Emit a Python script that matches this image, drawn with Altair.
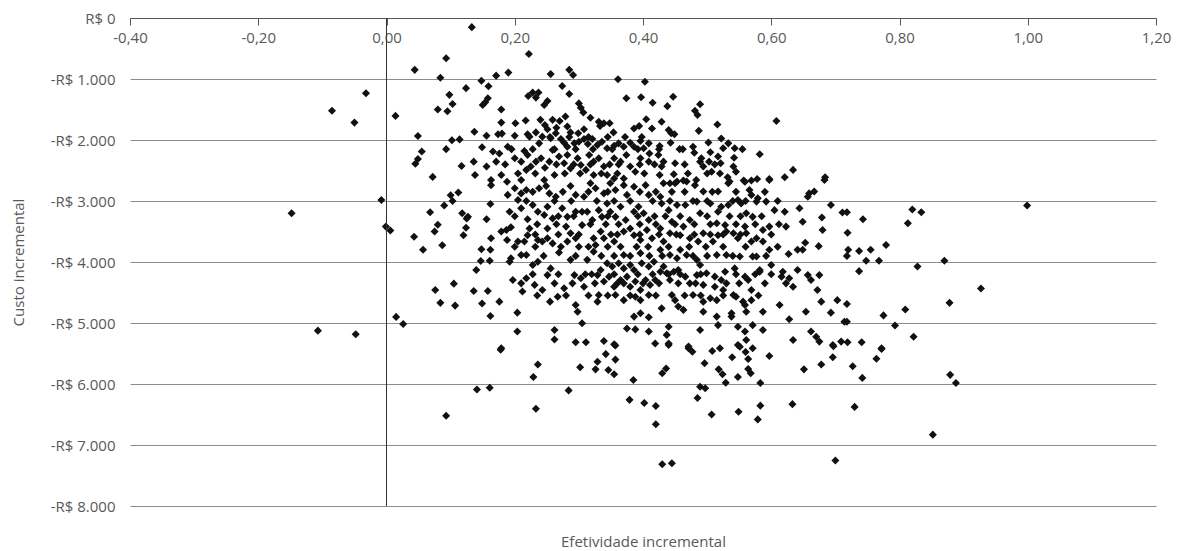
import altair as alt
import pandas as pd

# Axis ticks and labels (Brazilian number formatting)
x_ticks = [-0.4, -0.2, 0.0, 0.2, 0.4, 0.6, 0.8, 1.0, 1.2]
x_tick_labels = ["-0,40", "-0,20", "0,00", "0,20", "0,40", "0,60", "0,80", "1,00", "1,20"]
y_ticks = [0, -1000, -2000, -3000, -4000, -5000, -6000, -7000, -8000]
y_tick_labels = ["R$ 0", "-R$ 1.000", "-R$ 2.000", "-R$ 3.000", "-R$ 4.000",
                 "-R$ 5.000", "-R$ 6.000", "-R$ 7.000", "-R$ 8.000"]

# (efetividade incremental, custo incremental), by region
pts_left = [
    (0.133, -150), (0.222, -590), (0.044, -850), (0.093, -660), (0.084, -980), (0.124, -1150),
    (-0.032, -1235), (-0.085, -1520), (-0.05, -1715), (0.014, -1605), (0.098, -1260), (0.103, -1410),
    (0.08, -1500), (0.095, -1530), (0.049, -1935), (0.102, -2005), (0.114, -1990), (0.093, -2150),
    (0.055, -2190), (0.049, -2310), (0.045, -2390), (0.117, -2425), (0.072, -2605),
    (-0.148, -3200), (-0.008, -2985), (-0.001, -3420), (0.006, -3485), (0.043, -3585), (0.057, -3800),
    (0.068, -3185), (0.075, -3500), (0.08, -3390), (0.087, -3725), (0.09, -3075), (0.1, -2905),
    (0.103, -3000), (0.112, -2860), (0.118, -3200), (0.125, -3285), (0.124, -3440), (0.12, -3560),
    (0.076, -4460), (0.105, -4355), (0.084, -4670), (0.107, -4715), (0.015, -4900), (0.026, -5015),
    (-0.107, -5125), (-0.048, -5185), (0.093, -6520),
]
pts_lower = [
    (0.178, -5440), (0.141, -6090), (0.161, -6060), (0.229, -5885), (0.236, -5680), (0.233, -6405),
    (0.284, -6105), (0.302, -5725), (0.326, -5760), (0.329, -5635), (0.342, -5510), (0.346, -5770),
    (0.355, -5840), (0.357, -5600), (0.357, -5370), (0.385, -5935), (0.379, -6260), (0.402, -6310),
    (0.42, -6360), (0.42, -6660),
    (0.43, -7315), (0.445, -7300), (0.7, -7255), (0.852, -6830), (0.879, -5850), (0.888, -5985),
    (0.43, -5825), (0.436, -5745), (0.44, -5360), (0.471, -5415), (0.477, -5470), (0.508, -5460),
    (0.496, -5660), (0.518, -5760), (0.524, -5840), (0.529, -5980), (0.489, -6045), (0.497, -6070),
    (0.485, -6230), (0.507, -6500), (0.539, -5560), (0.551, -5390), (0.56, -5475), (0.564, -5590),
    (0.571, -5415), (0.548, -5885), (0.564, -5755), (0.568, -5825), (0.583, -5985), (0.549, -6455),
    (0.583, -6355), (0.579, -6580), (0.597, -5540), (0.633, -6330), (0.651, -5760), (0.678, -5680),
    (0.696, -5560), (0.697, -5380), (0.727, -5710), (0.742, -5900), (0.73, -6375), (0.764, -5585),
    (0.772, -5425),
]
pts_right = [
    (0.999, -3075), (0.82, -3140), (0.834, -3185), (0.813, -3365), (0.743, -3300), (0.718, -3185),
    (0.719, -3520), (0.72, -3800), (0.718, -3900), (0.737, -3820), (0.755, -3800), (0.779, -3720),
    (0.748, -3980), (0.768, -3980), (0.737, -4150), (0.87, -3980), (0.828, -4075), (0.927, -4435),
    (0.878, -4670), (0.809, -4780), (0.775, -4875), (0.793, -5040), (0.822, -5225), (0.718, -4690),
    (0.718, -4980), (0.719, -5315), (0.741, -5315), (0.772, -5415),
]
pts_upper_mid = [
    (0.608, -1690), (0.447, -1290), (0.438, -1445), (0.429, -1700), (0.489, -1415), (0.481, -1520),
    (0.485, -1590), (0.516, -1745), (0.487, -1850), (0.44, -1835), (0.444, -1890), (0.449, -1905),
    (0.443, -2045), (0.426, -2100), (0.424, -2245), (0.457, -2150), (0.432, -2355), (0.45, -2380),
    (0.478, -2110), (0.48, -2210), (0.502, -2040), (0.522, -1975), (0.533, -2055), (0.543, -2135),
    (0.555, -2150), (0.525, -2135), (0.505, -2200), (0.517, -2270), (0.542, -2290), (0.489, -2355),
    (0.494, -2435), (0.503, -2355), (0.521, -2380), (0.541, -2435), (0.545, -2520), (0.507, -2520),
    (0.582, -2235), (0.634, -2490), (0.621, -2610), (0.684, -2610), (0.597, -2640), (0.578, -2640),
    (0.569, -2665), (0.557, -2665), (0.532, -2610), (0.535, -2680), (0.483, -2655), (0.463, -2665),
    (0.453, -2680), (0.442, -2710), (0.448, -2560), (0.429, -2435), (0.426, -2575), (0.491, -2300),
]
pts_upper_left = [
    (0.148, -1030), (0.171, -945), (0.19, -895), (0.256, -920), (0.285, -850), (0.291, -935),
    (0.361, -1005), (0.403, -1045), (0.159, -1120), (0.274, -1115), (0.285, -1245), (0.221, -1280),
    (0.228, -1220), (0.237, -1220), (0.233, -1305), (0.158, -1315), (0.154, -1380), (0.15, -1425),
    (0.251, -1360), (0.246, -1425), (0.374, -1315), (0.397, -1300), (0.415, -1390), (0.3, -1400),
    (0.303, -1470), (0.307, -1550), (0.318, -1635), (0.179, -1500), (0.279, -1615), (0.27, -1690),
    (0.24, -1670), (0.247, -1755), (0.259, -1670), (0.217, -1680), (0.179, -1715), (0.201, -1725),
    (0.251, -1825), (0.265, -1800), (0.282, -1780), (0.287, -1875), (0.299, -1890), (0.308, -1825),
    (0.331, -1700), (0.333, -1770), (0.339, -1725), (0.348, -1725), (0.354, -1875), (0.386, -1810),
    (0.394, -1770), (0.405, -1660), (0.414, -1810), (0.137, -1865), (0.156, -1930), (0.174, -1905),
    (0.18, -1895), (0.2, -1930), (0.22, -1905), (0.223, -1945), (0.233, -1875), (0.238, -2055),
    (0.243, -1945), (0.256, -1970), (0.264, -1890), (0.272, -1985), (0.277, -2045), (0.282, -2110),
    (0.293, -2055), (0.3, -2030), (0.308, -1985), (0.314, -2065), (0.321, -1985), (0.329, -2080),
    (0.336, -2030), (0.344, -2135), (0.355, -2095), (0.362, -2055), (0.37, -2110), (0.38, -2045),
    (0.386, -2110), (0.396, -2015), (0.409, -2055), (0.41, -2220), (0.149, -2120), (0.136, -2355),
    (0.138, -2575), (0.156, -2435), (0.166, -2190), (0.176, -2220), (0.171, -2355), (0.179, -2575),
    (0.189, -2110), (0.2, -2300), (0.21, -2355), (0.215, -2180), (0.22, -2245), (0.225, -2435),
    (0.218, -2490), (0.233, -2355), (0.241, -2300), (0.247, -2455), (0.254, -2355), (0.262, -2575),
    (0.259, -2165), (0.269, -2270), (0.277, -2380), (0.282, -2245), (0.287, -2465), (0.298, -2300),
    (0.303, -2410), (0.311, -2490), (0.316, -2245), (0.323, -2355), (0.331, -2300), (0.339, -2435),
    (0.323, -2575), (0.344, -2575), (0.355, -2300), (0.365, -2355), (0.374, -2245), (0.38, -2435),
    (0.388, -2520), (0.396, -2300), (0.401, -2135), (0.409, -2355), (0.37, -2630), (0.355, -2630),
    (0.246, -2655), (0.21, -2655), (0.163, -2655),
]
pts_core_left = [
    (0.163, -2740), (0.188, -2685), (0.2, -2790), (0.21, -2875), (0.218, -2820), (0.238, -2790),
    (0.249, -2755), (0.254, -2875), (0.264, -2930), (0.287, -2755), (0.295, -2900), (0.308, -2930),
    (0.318, -2710), (0.326, -2790), (0.339, -2875), (0.349, -2710), (0.357, -2820), (0.37, -2740),
    (0.375, -2900), (0.386, -2765), (0.404, -2740), (0.409, -2900),
    (0.162, -3050), (0.189, -2900), (0.192, -3175), (0.205, -2985), (0.21, -3120), (0.228, -3065),
    (0.236, -3175), (0.246, -3230), (0.251, -3095), (0.259, -3285), (0.274, -3120), (0.282, -3260),
    (0.295, -3175), (0.305, -3175), (0.313, -3175), (0.321, -3310), (0.331, -3150), (0.336, -3260),
    (0.344, -3040), (0.349, -3175), (0.357, -3260), (0.365, -3095), (0.373, -3310), (0.386, -3175),
    (0.393, -3095), (0.401, -3200), (0.409, -3310), (0.156, -3300), (0.127, -3260),
    (0.179, -3500), (0.187, -3475), (0.194, -3430), (0.188, -3640), (0.163, -3610), (0.205, -3665),
    (0.215, -3665), (0.22, -3560), (0.223, -3450), (0.22, -3300), (0.236, -3640), (0.243, -3665),
    (0.251, -3610), (0.251, -3450), (0.259, -3695), (0.28, -3420), (0.282, -3665), (0.287, -3530),
    (0.295, -3610), (0.305, -3395), (0.323, -3610), (0.326, -3720), (0.334, -3500), (0.339, -3610),
    (0.355, -3665), (0.37, -3500), (0.38, -3450), (0.386, -3560), (0.396, -3640), (0.406, -3475),
    (0.414, -3610), (0.148, -3790), (0.162, -3800),
    (0.147, -3985), (0.161, -3980), (0.14, -4130), (0.192, -3995), (0.194, -3940), (0.21, -3885),
    (0.218, -3885), (0.228, -4050), (0.236, -3995), (0.256, -4105), (0.269, -3845), (0.287, -3965),
    (0.313, -3965), (0.323, -3830), (0.334, -4130), (0.344, -4020), (0.352, -4075), (0.362, -4020),
    (0.37, -4105), (0.38, -4050), (0.386, -4130), (0.398, -4020), (0.409, -4075), (0.417, -3995),
    (0.396, -3855), (0.37, -3885),
    (0.197, -4295), (0.21, -4350), (0.218, -4265), (0.231, -4375), (0.243, -4460), (0.251, -4215),
    (0.277, -4430), (0.293, -4215), (0.303, -4265), (0.308, -4405), (0.329, -4215), (0.339, -4320),
    (0.347, -4240), (0.355, -4405), (0.365, -4295), (0.375, -4240), (0.38, -4405), (0.388, -4320),
    (0.396, -4460), (0.404, -4295), (0.411, -4375), (0.419, -4295), (0.136, -4475), (0.158, -4475),
    (0.149, -4680), (0.176, -4650), (0.212, -4485), (0.255, -4650), (0.267, -4570), (0.295, -4705),
    (0.298, -4815), (0.331, -4540), (0.329, -4650), (0.357, -4540), (0.37, -4625), (0.388, -4570),
    (0.396, -4625), (0.409, -4540), (0.204, -4830), (0.162, -4885), (0.386, -4895), (0.396, -4840),
    (0.409, -4905),
    (0.305, -5005), (0.204, -5140), (0.262, -5115), (0.262, -5270), (0.295, -5315), (0.311, -5315),
    (0.339, -5295), (0.355, -5350), (0.375, -5090), (0.388, -5105), (0.409, -5140), (0.419, -5335),
    (0.179, -5415),
]
pts_core_right = [
    (0.432, -2710), (0.45, -2710), (0.468, -2680), (0.481, -2740), (0.494, -2845), (0.517, -2845),
    (0.533, -2710), (0.559, -2685), (0.566, -2820), (0.569, -2900), (0.597, -2655), (0.579, -2955),
    (0.659, -2875), (0.667, -2845), (0.657, -2930), (0.683, -2655), (0.427, -2930),
    (0.429, -3040), (0.44, -3150), (0.453, -3065), (0.466, -3065), (0.484, -3010), (0.489, -3200),
    (0.505, -3040), (0.517, -3175), (0.522, -3095), (0.533, -3065), (0.548, -2985), (0.553, -3040),
    (0.561, -3200), (0.571, -3260), (0.577, -3010), (0.592, -3010), (0.605, -3150), (0.621, -3175),
    (0.644, -3120), (0.693, -3065), (0.649, -3340), (0.679, -3270), (0.711, -3190), (0.445, -3340),
    (0.473, -3310), (0.515, -3365), (0.528, -3395),
    (0.427, -3450), (0.442, -3530), (0.432, -3665), (0.458, -3560), (0.463, -3420), (0.473, -3610),
    (0.486, -3665), (0.494, -3530), (0.509, -3665), (0.517, -3560), (0.53, -3500), (0.541, -3530),
    (0.548, -3610), (0.559, -3420), (0.561, -3530), (0.569, -3665), (0.577, -3610), (0.587, -3475),
    (0.597, -3420), (0.597, -3800), (0.577, -3910), (0.587, -3665), (0.623, -3420), (0.68, -3475),
    (0.674, -3740), (0.653, -3685), (0.641, -3800), (0.649, -3800), (0.627, -3870),
    (0.427, -3800), (0.442, -3885), (0.453, -3940), (0.458, -3800), (0.468, -3885), (0.484, -3965),
    (0.489, -4050), (0.515, -3885), (0.53, -3885), (0.551, -3910), (0.571, -3910), (0.543, -4105),
    (0.6, -4050), (0.582, -4130), (0.432, -4075),
    (0.427, -4160), (0.437, -4185), (0.448, -4160), (0.455, -4130), (0.442, -4295), (0.466, -4240),
    (0.473, -4350), (0.484, -4215), (0.499, -4185), (0.512, -4240), (0.522, -4295), (0.528, -4160),
    (0.494, -4375), (0.512, -4405), (0.525, -4460), (0.559, -4240), (0.564, -4295), (0.582, -4160),
    (0.569, -4460), (0.618, -4160), (0.616, -4240), (0.628, -4265), (0.623, -4350), (0.634, -4405),
    (0.641, -4130), (0.657, -4215), (0.662, -4295), (0.675, -4215), (0.672, -4460),
    (0.445, -4540), (0.45, -4625), (0.455, -4730), (0.463, -4785), (0.429, -4760), (0.478, -4540),
    (0.494, -4650), (0.505, -4595), (0.515, -4625), (0.541, -4540), (0.545, -4570), (0.556, -4650),
    (0.559, -4705), (0.569, -4625), (0.561, -4815), (0.538, -4840), (0.538, -4895), (0.587, -4815),
    (0.613, -4705), (0.515, -4895), (0.494, -4815), (0.654, -4815), (0.628, -4940), (0.678, -4650),
    (0.693, -4830), (0.703, -4625), (0.714, -4980),
    (0.44, -5060), (0.437, -5195), (0.44, -5335), (0.471, -5385), (0.489, -5115), (0.517, -5035),
    (0.548, -5060), (0.559, -5140), (0.561, -5280), (0.571, -5035), (0.587, -5115), (0.634, -5280),
    (0.662, -5140), (0.67, -5225), (0.675, -5305), (0.696, -5360), (0.709, -5305), (0.548, -5360),
    (0.52, -5415),
]
# overlapping points hidden inside the densest blobs of the core (estimated)
pts_core_dense = [
    (0.255, -1950), (0.285, -1950), (0.315, -1950), (0.345, -1950), (0.372, -1950), (0.398, -1950),
    (0.195, -2150), (0.228, -2150), (0.262, -2150), (0.295, -2150), (0.322, -2150), (0.352, -2150),
    (0.392, -2150), (0.425, -2150), (0.462, -2150),
    (0.185, -2400), (0.265, -2400), (0.292, -2400), (0.318, -2400), (0.348, -2400), (0.362, -2400),
    (0.395, -2400), (0.418, -2400), (0.465, -2400), (0.512, -2400),
    (0.205, -2550), (0.232, -2550), (0.278, -2550), (0.302, -2550), (0.335, -2550), (0.36, -2550),
    (0.402, -2550), (0.47, -2550), (0.5, -2550), (0.52, -2550),
    (0.228, -2850), (0.275, -2850), (0.315, -2850), (0.345, -2850), (0.395, -2850), (0.42, -2850),
    (0.445, -2850), (0.465, -2850), (0.508, -2850), (0.545, -2850), (0.59, -2850),
    (0.218, -3000), (0.262, -3000), (0.288, -3000), (0.328, -3000), (0.355, -3000), (0.38, -3000),
    (0.415, -3000), (0.442, -3000), (0.478, -3000), (0.5, -3000), (0.54, -3000), (0.56, -3000),
    (0.61, -3000),
    (0.2, -3250), (0.268, -3250), (0.292, -3250), (0.345, -3250), (0.392, -3250), (0.418, -3250),
    (0.435, -3250), (0.458, -3250), (0.5, -3250), (0.535, -3250), (0.552, -3250), (0.585, -3250),
    (0.235, -3380), (0.265, -3380), (0.318, -3380), (0.342, -3380), (0.362, -3380), (0.395, -3380),
    (0.42, -3380), (0.45, -3380), (0.48, -3380), (0.505, -3380), (0.545, -3380), (0.575, -3380),
    (0.612, -3380),
    (0.232, -3550), (0.268, -3550), (0.3, -3550), (0.35, -3550), (0.36, -3550), (0.395, -3550),
    (0.425, -3550), (0.452, -3550), (0.48, -3550), (0.505, -3550), (0.525, -3550), (0.552, -3550),
    (0.6, -3550),
    (0.2, -3750), (0.232, -3750), (0.272, -3750), (0.3, -3750), (0.315, -3750), (0.345, -3750),
    (0.365, -3750), (0.39, -3750), (0.408, -3750), (0.44, -3750), (0.472, -3750), (0.498, -3750),
    (0.525, -3750), (0.56, -3750), (0.61, -3750),
    (0.245, -3900), (0.295, -3900), (0.335, -3900), (0.355, -3900), (0.38, -3900), (0.41, -3900),
    (0.43, -3900), (0.478, -3900), (0.5, -3900), (0.54, -3900), (0.592, -3900),
    (0.228, -4200), (0.268, -4200), (0.31, -4200), (0.32, -4200), (0.355, -4200), (0.392, -4200),
    (0.415, -4200), (0.44, -4200), (0.458, -4200), (0.49, -4200), (0.545, -4200), (0.575, -4200),
    (0.6, -4200),
    (0.262, -4350), (0.29, -4350), (0.325, -4350), (0.36, -4350), (0.37, -4350), (0.4, -4350),
    (0.425, -4350), (0.455, -4350), (0.482, -4350), (0.53, -4350), (0.55, -4350), (0.59, -4350),
    (0.235, -4550), (0.28, -4550), (0.315, -4550), (0.345, -4550), (0.38, -4550), (0.42, -4550),
    (0.465, -4550), (0.49, -4550), (0.525, -4550), (0.58, -4550),
]

rows = (pts_left + pts_lower + pts_right + pts_upper_mid + pts_upper_left
        + pts_core_left + pts_core_right + pts_core_dense)
df = pd.DataFrame(rows, columns=["eff", "cost"])

x_label_expr = "[" + ",".join(f"'{t}'" for t in x_tick_labels) + "][round((datum.value + 0.4) / 0.2)]"
y_label_expr = "[" + ",".join(f"'{t}'" for t in y_tick_labels) + "][round(-datum.value / 1000)]"

W, H = 1026, 488
FONT = "Open Sans"
TXT = "#595959"

x_enc = alt.X("eff:Q",
              scale=alt.Scale(domain=[-0.4, 1.2], nice=False, zero=False),
              axis=alt.Axis(orient="bottom", offset=-H, values=x_ticks, labelExpr=x_label_expr,
                            tickSize=7, tickColor="#555555", domainColor="#555555",
                            labelPadding=5, labelFlush=False, grid=False,
                            title="Efetividade incremental", titleX=W / 2, titleY=523,
                            titleAlign="center", titleBaseline="middle"))
y_enc = alt.Y("cost:Q",
              scale=alt.Scale(domain=[-8000, 0], nice=False, zero=False),
              axis=alt.Axis(values=y_ticks, labelExpr=y_label_expr, domain=False, ticks=False,
                            tickSize=0, labelPadding=15, labelFlush=False, grid=True,
                            gridColor="#8c8c8c", gridWidth=1,
                            title="Custo incremental", titleX=-112, titleY=H / 2,
                            titleAngle=270, titleAlign="center", titleBaseline="middle"))

points = alt.Chart(df).mark_point(
    shape="diamond", filled=True, size=65, color="#111111", opacity=1
).encode(x=x_enc, y=y_enc)

zero_line = alt.Chart(pd.DataFrame({"eff": [0.0]})).mark_rule(
    color="#333333", strokeWidth=1
).encode(x=x_enc)

chart = alt.layer(points, zero_line).properties(
    width=W, height=H,
    autosize=alt.AutoSizeParams(type="none"),
    padding={"left": 122, "top": 10, "right": 16, "bottom": 44},
).configure_view(stroke=None).configure_axis(
    labelFont=FONT, labelFontSize=15, labelColor=TXT,
    titleFont=FONT, titleFontSize=15, titleFontWeight="normal", titleColor=TXT,
)

chart.save("out.html", embed_options={"renderer": "svg", "actions": False})
